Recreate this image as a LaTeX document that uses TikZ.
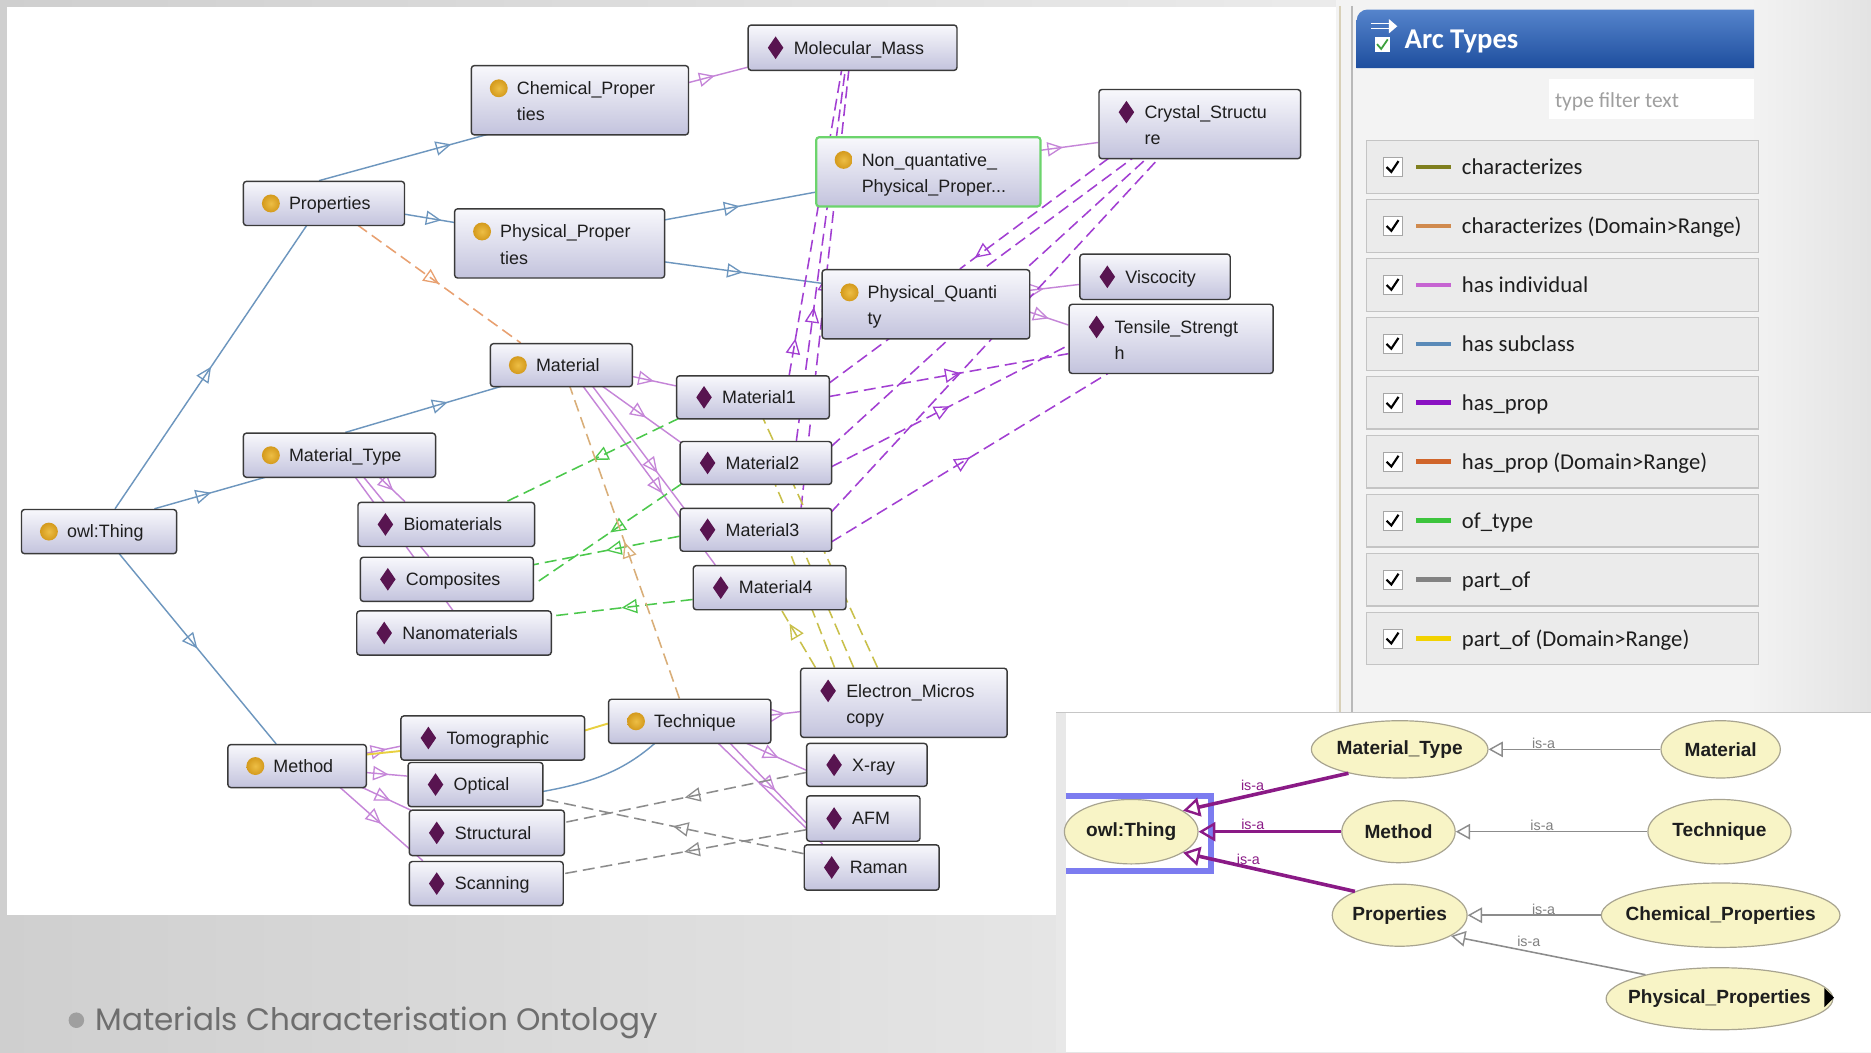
\documentclass[tikz,border=0pt]{standalone}
\usepackage{fontspec}
\setmainfont{Liberation Sans}
\newfontfamily\calib{Carlito}
\newfontfamily\capf{Poppins}
\usetikzlibrary{calc,arrows.meta,decorations.markings,shapes.geometric}
\pgfdeclarelayer{bg}
\pgfdeclarelayer{edges}
\pgfsetlayers{bg,edges,main}
\definecolor{boxt}{HTML}{F8F8FC}
\definecolor{boxb}{HTML}{C3C3DD}
\definecolor{boxd}{HTML}{3A3A3A}
\definecolor{gold}{HTML}{D49A1C}
\definecolor{goldl}{HTML}{EDBE45}
\definecolor{dpur}{HTML}{581450}
\definecolor{txtc}{HTML}{1E1E1E}
\definecolor{nqg}{HTML}{6CD46C}
\definecolor{csub}{HTML}{6D96BE}
\definecolor{cind}{HTML}{C585D8}
\definecolor{cprop}{HTML}{A23FD2}
\definecolor{ctyp}{HTML}{4CC84C}
\definecolor{cpart}{HTML}{8C8C8C}
\definecolor{chdr}{HTML}{E8A070}
\definecolor{cchdr}{HTML}{D9AE78}
\definecolor{cchr}{HTML}{C9C04A}
\definecolor{cpdr}{HTML}{E8D040}
\definecolor{lg1}{HTML}{7F7F1E}
\definecolor{lg2}{HTML}{D08A4E}
\definecolor{lg3}{HTML}{C664D2}
\definecolor{lg4}{HTML}{5A8AB8}
\definecolor{lg5}{HTML}{8A12C2}
\definecolor{lg6}{HTML}{D0652A}
\definecolor{lg7}{HTML}{3CC43C}
\definecolor{lg8}{HTML}{828282}
\definecolor{lg9}{HTML}{F2D200}
\definecolor{hb1}{HTML}{5584CC}
\definecolor{hb2}{HTML}{1E4E9E}
\definecolor{elly}{HTML}{F8F4C6}
\definecolor{ellb}{HTML}{A8A490}
\definecolor{owlp}{HTML}{8A1A86}
\definecolor{selb}{HTML}{7C7CF0}
\definecolor{capg}{HTML}{6E6E6E}
\definecolor{bgl}{HTML}{CFCFCF}
\definecolor{bgr}{HTML}{F6F6F6}
\definecolor{pnl}{HTML}{F3F3F3}
\definecolor{rowf}{HTML}{EBEBEB}
\definecolor{rowb}{HTML}{C4C4C4}

\tikzset{
  ebox/.style={draw=boxd, line width=1.2pt, rounded corners=2.5pt, top color=boxt, bottom color=boxb, inner sep=0pt},
  lbl/.style={font=\fontsize{15}{15}\selectfont, text=txtc, inner sep=0pt},
  tri/.style={postaction={decorate}, decoration={markings, mark=at position #1 with {\arrow[line width=1.1pt]{Triangle[open,length=13pt,width=12pt]}}}},
  sub/.style={draw=csub, line width=1.2pt},
  ind/.style={draw=cind, line width=1.2pt},
  hprop/.style={draw=cprop, line width=1.3pt, dash pattern=on 10pt off 5pt},
  otyp/.style={draw=ctyp, line width=1.3pt, dash pattern=on 10pt off 5pt},
  partof/.style={draw=cpart, line width=1.3pt, dash pattern=on 10pt off 5pt},
  hpdr/.style={draw=chdr, line width=1.3pt, dash pattern=on 10pt off 5pt},
  chdr/.style={draw=cchdr, line width=1.3pt, dash pattern=on 10pt off 5pt},
  chr/.style={draw=cchr, line width=1.3pt, dash pattern=on 10pt off 5pt},
  pdr/.style={draw=cpdr, line width=1.6pt},
  oell/.style={ellipse, draw=ellb, fill=elly, line width=1pt, inner sep=0pt, text=txtc, font=\bfseries\fontsize{16}{16}\selectfont},
  owlarc/.style={draw=owlp, line width=3pt, -{Triangle[open,length=14pt,width=16pt,line width=2pt]}},
  grayarc/.style={draw=cpart, line width=1.3pt, -{Triangle[open,length=12pt,width=13pt,line width=1.2pt]}},
  isa/.style={font=\fontsize{12}{12}\selectfont, inner sep=1pt},
}

\newcommand\obox[6]{%
  \expandafter\gdef\csname bx@#1\endcsname{#2}%
  \expandafter\gdef\csname by@#1\endcsname{#3}%
  \node[ebox,#6,minimum width={(#4-#2)*1pt},minimum height={(#5-#3)*1pt}] (#1) at ({(#2+#4)/2},{(#3+#5)/2}) {};}
\newcommand\nb[3]{($(#1.north west)+({#2-\csname bx@#1\endcsname},{#3-\csname by@#1\endcsname})$)}
\newcommand\icog[2]{\shade[inner color=goldl, outer color=gold] ({#1},{#2}) circle (7.5);}
\newcommand\icod[2]{\fill[dpur] ({#1},{#2-9.5}) -- ({#1+6.5},{#2}) -- ({#1},{#2+9.5}) -- ({#1-6.5},{#2}) -- cycle;}
\newcommand\tx[3]{\node[lbl,anchor=base west] at ({#1},{#2+5.3}) {#3};}
\newcommand\boxA[7]{\obox{#1}{#2}{#3}{#4}{#5}{}\csname ico#6\endcsname{#2+23}{(#3+#5)/2}\tx{#2+38}{(#3+#5)/2}{#7}}
\newcommand\boxB[8]{\obox{#1}{#2}{#3}{#4}{#5}{}\csname ico#6\endcsname{#2+23}{#3+19}\tx{#2+38}{#3+19}{#7}\tx{#2+38}{#3+41}{#8}}

\begin{document}
\begin{tikzpicture}[x=1pt,y=-1pt]
\useasboundingbox (0,0) rectangle (1568,882);

% ---------- backgrounds ----------
\begin{pgfonlayer}{bg}
\shade[left color=bgl, right color=bgr] (0,0) rectangle (1568,882);
\shade[left color=gray!10, right color=gray!22] (1470,0) rectangle (1568,597);
\fill[white] (6,6) rectangle (1121,767);
% Arc types panel
\fill[pnl] (1120,0) rectangle (1470,597);
\draw[line width=2pt, color={rgb,255:red,216;green,208;blue,184}] (1123,5) -- (1123,597);
\draw[line width=1.5pt, gray!55] (1133,5) -- (1133,597);
\end{pgfonlayer}

% header
\shade[top color=hb1, bottom color=hb2] (1137,57) [rounded corners=9pt]-- (1137,8) [sharp corners]-- (1470,8) -- (1470,57) -- cycle;
\draw[white, line width=1pt] (1149,20) -- (1166,20);
\draw[white, line width=1pt] (1149,24) -- (1166,24);
\fill[white] (1164,16) -- (1171,22) -- (1164,28) -- cycle;
\fill[white] (1152,31) rectangle (1165,44);
\draw[ctyp!80!black, line width=1.5pt] (1154,37) -- (1157.5,41) -- (1163,33);
\node[anchor=base west, text=white, inner sep=0pt, font=\calib\bfseries\fontsize{24}{24}\selectfont] at (1177,41) {Arc Types};
\fill[white] (1298,66) rectangle (1470,100);
\node[anchor=base west, text=gray!75, inner sep=0pt, font=\calib\fontsize{18}{18}\selectfont] at (1303,90) {type filter text};
\foreach \i/\rc/\lab in {0/lg1/characterizes, 1/lg2/characterizes (Domain>Range), 2/lg3/has individual, 3/lg4/has subclass, 4/lg5/has\_prop, 5/lg6/has\_prop (Domain>Range), 6/lg7/of\_type, 7/lg8/part\_of, 8/lg9/part\_of (Domain>Range)}{
  \pgfmathsetmacro\yc{140+49.4*\i}
  \draw[rowb, fill=rowf, line width=1pt] (1145,\yc-22) rectangle (1474,\yc+22);
  \draw[gray!70, fill=white, line width=0.8pt] (1159,\yc-8) rectangle (1175,\yc+8);
  \draw[black, line width=1.8pt] (1162,\yc) -- (1166,\yc+4) -- (1172,\yc-5);
  \draw[\rc, line width=4pt] (1187,\yc) -- (1216,\yc);
  \node[anchor=base west, text=txtc, inner sep=0pt, font=\calib\fontsize{19}{19}\selectfont] at (1225,\yc+6.5) {\lab};
}

% ---------- graph boxes ----------
\boxA{mm}{627}{21}{802}{59}{d}{Molecular\_Mass}
\boxB{chem}{395}{55}{577}{113}{g}{Chemical\_Proper}{ties}
\boxB{crys}{921}{75}{1090}{133}{d}{Crystal\_Structu}{re}
\obox{nq}{684}{115}{872}{173}{draw=nqg,line width=1.8pt}
\icog{707}{134}\tx{722}{134}{Non\_quantative\_}\tx{722}{156}{Physical\_Proper...}
\boxA{prop}{204}{152}{339}{189}{g}{Properties}
\boxB{phys}{381}{175}{557}{233}{g}{Physical\_Proper}{ties}
\boxB{pq}{689}{226}{863}{284}{g}{Physical\_Quanti}{ty}
\boxA{visc}{905}{213}{1031}{251}{d}{Viscocity}
\boxB{tens}{896}{255}{1067}{313}{d}{Tensile\_Strengt}{h}
\boxA{mat}{411}{288}{530}{324}{g}{Material}
\boxA{m1}{567}{315}{695}{351}{d}{Material1}
\boxA{mt}{204}{363}{365}{400}{g}{Material\_Type}
\boxA{m2}{570}{370}{697}{406}{d}{Material2}
\boxA{bio}{300}{421}{448}{458}{d}{Biomaterials}
\boxA{owl}{18}{427}{148}{464}{g}{owl:Thing}
\boxA{m3}{570}{426}{697}{462}{d}{Material3}
\boxA{comp}{302}{467}{447}{504}{d}{Composites}
\boxA{m4}{581}{474}{709}{511}{d}{Material4}
\boxA{nano}{299}{512}{462}{549}{d}{Nanomaterials}
\boxB{em}{671}{560}{844}{618}{d}{Electron\_Micros}{copy}
\boxA{tech}{510}{586}{646}{623}{g}{Technique}
\boxA{tomo}{336}{600}{490}{637}{d}{Tomographic}
\boxA{meth}{191}{624}{307}{660}{g}{Method}
\boxA{xray}{676}{623}{777}{659}{d}{X-ray}
\boxA{opt}{342}{639}{455}{676}{d}{Optical}
\boxA{afm}{676}{667}{771}{705}{d}{AFM}
\boxA{struc}{343}{679}{473}{717}{d}{Structural}
\boxA{raman}{674}{708}{787}{746}{d}{Raman}
\boxA{scan}{343}{722}{472}{759}{d}{Scanning}

% ---------- graph edges ----------
\begin{pgfonlayer}{edges}
% has subclass
\draw[sub,tri=0.5] \nb{owl}{97}{427} -- \nb{prop}{258}{189};
\draw[sub,tri=0.5] \nb{owl}{130}{427} -- \nb{mt}{225}{400};
\draw[sub,tri=0.5] \nb{owl}{100}{464} -- \nb{meth}{232}{624};
\draw[sub,tri=0.78] \nb{prop}{268}{152} -- \nb{chem}{410}{113};
\draw[sub,tri=0.75] \nb{prop}{339}{180} -- \nb{phys}{381}{187};
\draw[sub,tri=0.5] \nb{phys}{557}{185} -- \nb{nq}{684}{162};
\draw[sub,tri=0.5] \nb{phys}{557}{220} -- \nb{pq}{689}{238};
\draw[sub,tri=0.65] \nb{mt}{290}{363} -- \nb{mat}{422}{324};
\draw[sub] \nb{opt}{455}{664} .. controls +(45,-8) and +(-25,22) .. \nb{tech}{550}{623};
% has individual
\draw[ind,tri=0.45] \nb{chem}{577}{70} -- \nb{mm}{627}{57};
\draw[ind,tri=0.4] \nb{nq}{872}{127} -- \nb{crys}{921}{120};
\draw[ind,tri=0.3] \nb{pq}{863}{244} -- \nb{visc}{905}{239};
\draw[ind,tri=0.5] \nb{pq}{863}{262} -- \nb{tens}{896}{273};
\draw[ind,tri=0.5] \nb{mat}{530}{316} -- \nb{m1}{567}{324};
\draw[ind,tri=0.55] \nb{mat}{505}{324} -- \nb{m2}{572}{372};
\draw[ind,tri=0.7] \nb{mat}{497}{324} -- \nb{m3}{575}{428};
\draw[ind,tri=0.6] \nb{mat}{489}{324} -- \nb{m4}{600}{474};
\draw[ind,tri=0.55] \nb{mt}{318}{400} -- \nb{bio}{340}{421};
\draw[ind] \nb{mt}{305}{400} -- \nb{comp}{360}{467};
\draw[ind] \nb{mt}{298}{400} -- \nb{nano}{380}{512};
\draw[ind,tri=0.6] \nb{meth}{307}{632} -- \nb{tomo}{336}{626};
\draw[ind,tri=0.55] \nb{meth}{307}{648} -- \nb{opt}{342}{651};
\draw[ind,tri=0.55] \nb{meth}{303}{660} -- \nb{struc}{348}{681};
\draw[ind,tri=0.5] \nb{meth}{285}{660} -- \nb{scan}{355}{722};
\draw[ind,tri=0.5] \nb{tech}{646}{600} -- \nb{em}{671}{597};
\draw[ind,tri=0.55] \nb{tech}{625}{623} -- \nb{xray}{676}{646};
\draw[ind,tri=0.6] \nb{tech}{612}{623} -- \nb{afm}{676}{690};
\draw[ind] \nb{tech}{602}{623} -- \nb{raman}{690}{708};
% has_prop
\draw[hprop,tri=0.12] \nb{m1}{662}{315} -- \nb{mm}{706}{59};
\draw[hprop,tri=0.36] \nb{m2}{668}{370} -- \nb{mm}{709}{59};
\draw[hprop,tri=0.53] \nb{m3}{672}{426} -- \nb{mm}{712}{59};
\draw[hprop] \nb{m1}{695}{322} -- \nb{crys}{950}{133};
\draw[hprop] \nb{m2}{697}{375} -- \nb{crys}{962}{133};
\draw[hprop] \nb{m3}{697}{430} -- \nb{crys}{972}{133};
\draw[hprop,tri=0.9] \nb{crys}{930}{133} -- \nb{pq}{805}{226};
\draw[hprop,tri=0.55] \nb{m1}{695}{333} -- \nb{tens}{896}{297};
\draw[hprop,tri=0.5] \nb{m2}{697}{392} -- \nb{tens}{896}{290};
\draw[hprop,tri=0.5] \nb{m3}{697}{455} -- \nb{tens}{930}{313};
% of_type
\draw[otyp,tri=0.5] \nb{m1}{570}{351} -- \nb{bio}{425}{421};
\draw[otyp,tri=0.48] \nb{m2}{572}{406} -- \nb{comp}{447}{491};
\draw[otyp,tri=0.5] \nb{m3}{570}{450} -- \nb{comp}{447}{474};
\draw[otyp,tri=0.5] \nb{m4}{581}{503} -- \nb{nano}{462}{517};
% domain>range
\draw[hpdr,tri=0.5] \nb{prop}{300}{189} -- \nb{mat}{437}{288};
\draw[chdr,tri=0.5] \nb{tech}{570}{586} -- \nb{mat}{478}{324};
% characterizes
\draw[chr,tri=0.75] \nb{em}{684}{560} -- \nb{m4}{655}{511};
\draw[chr,tri=0.8] \nb{em}{700}{560} -- \nb{m3}{662}{462};
\draw[chr] \nb{em}{716}{560} -- \nb{m2}{650}{406};
\draw[chr] \nb{em}{736}{560} -- \nb{m1}{640}{351};
% part_of
\draw[partof,tri=0.5] \nb{xray}{676}{648} -- \nb{struc}{473}{690};
\draw[partof,tri=0.5] \nb{raman}{674}{716} -- \nb{opt}{455}{670};
\draw[partof,tri=0.5] \nb{afm}{676}{696} -- \nb{scan}{472}{733};
% part_of (Domain>Range)
\draw[pdr] \nb{meth}{307}{633} -- \nb{tomo}{336}{630};
\draw[pdr] \nb{tomo}{490}{613} -- \nb{tech}{510}{607};
\end{pgfonlayer}

% ---------- OWLViz panel ----------
\fill[white] (885,597) rectangle (1568,882);
\fill[gray!18] (885,597) rectangle (893,882);
\draw[gray!45, line width=1pt] (885,597) -- (1568,597);
\node[oell, minimum width=112, minimum height=54] (ow) at (948,697) {owl:Thing};
\node[oell, inner xsep=-10pt, minimum width=148, minimum height=48] (omt) at (1173,628) {Material\_Type};
\node[oell, minimum width=95, minimum height=52] (ometh) at (1172,697) {Method};
\node[oell, inner xsep=-4pt, minimum width=113, minimum height=52] (oprop) at (1173,767) {Properties};
\node[oell, minimum width=100, minimum height=48] (omat) at (1442,628) {Material};
\node[oell, minimum width=120, minimum height=54] (otech) at (1441,697) {Technique};
\node[oell, inner xsep=-14pt, minimum width=200, minimum height=54] (ochem) at (1442,767) {Chemical\_Properties};
\node[oell, inner xsep=-14pt, minimum width=190, minimum height=52] (ophys) at (1441,837) {Physical\_Properties};
\fill[black] (1529,828) -- (1537,836) -- (1529,844) -- cycle;
\draw[selb, line width=5pt] (893,667) -- (1015,667) -- (1015,730) -- (893,730);
\draw[owlarc] (omt.205) -- (ow.22) node[isa, text=owlp, pos=0.58, above=1pt] {is-a};
\draw[owlarc] (ometh.west) -- (ow.east) node[isa, text=owlp, pos=0.62, above=-1pt] {is-a};
\draw[owlarc] (oprop.152) -- (ow.-22) node[isa, text=owlp, pos=0.62, above=0pt] {is-a};
\draw[grayarc] (omat.west) -- (omt.east) node[isa, text=gray, pos=0.68, above=-1pt] {is-a};
\draw[grayarc] (otech.west) -- (ometh.east) node[isa, text=gray, pos=0.55, above=-1pt] {is-a};
\draw[grayarc] (ochem.west) -- (oprop.east) node[isa, text=gray, pos=0.43, above=-1pt] {is-a};
\draw[grayarc] (ophys.162) -- (oprop.-22) node[isa, text=gray, pos=0.6, above=2pt] {is-a};

% ---------- caption ----------
\fill[gray!75] (64,855) circle (6.5);
\node[anchor=base west, inner sep=0pt, text=capg, font=\capf\fontsize{26}{26}\selectfont] (cap) at (80,864) {Materials Characterisation Ontology};
\end{tikzpicture}
\end{document}
